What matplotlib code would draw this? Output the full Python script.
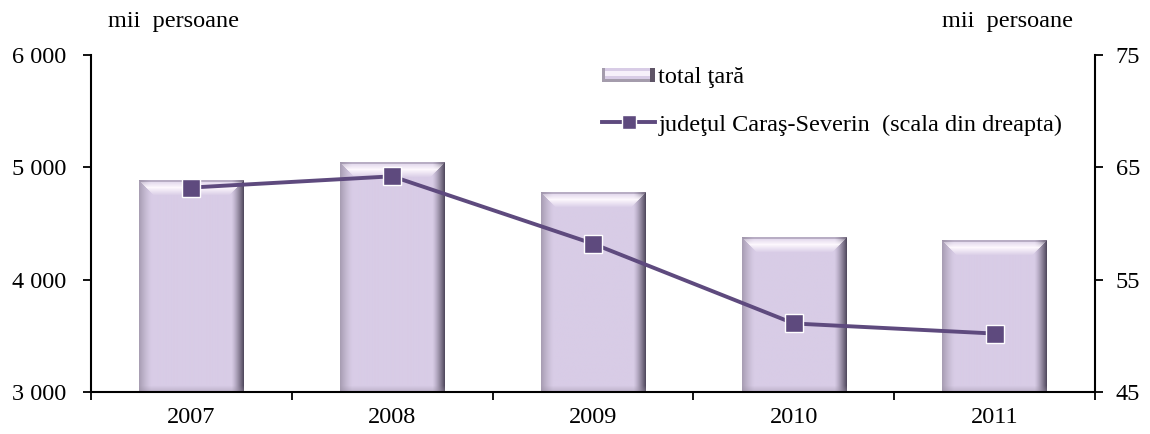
import numpy as np
import matplotlib
matplotlib.use("Agg")
import matplotlib.pyplot as plt
from matplotlib.patches import Rectangle
from matplotlib.lines import Line2D
from matplotlib.legend_handler import HandlerBase
from matplotlib.ticker import FuncFormatter, FixedLocator

plt.rcParams['font.family'] = ['Liberation Serif', 'DejaVu Serif']

years = ["2007", "2008", "2009", "2010", "2011"]
total_tara = [4885, 5046, 4774, 4371, 4353]       # mii persoane (scala stanga)
caras_severin = [63.2, 64.2, 58.2, 51.1, 50.2]     # mii persoane (scala dreapta)

BAR_COLOR = np.array([216, 204, 230]) / 255
LINE_COLOR = "#5E4A7E"
FS = 17.5


def bevel_image(w, h, b=12):
    # rgb image of a bar with a soft bevel: light top, dark right edge
    img = np.tile(BAR_COLOR, (h, w, 1)).astype(float)
    light = np.array([1.0, 0.98, 1.0])
    dark = np.array([0.30, 0.27, 0.35])
    grey = np.array([0.60, 0.56, 0.64])
    for i in range(b):
        t = (1 - i / b) ** 1.3
        img[:, i] = img[:, i] * (1 - 0.75 * t) + grey * 0.75 * t
        img[:, w - 1 - i] = img[:, w - 1 - i] * (1 - 0.95 * t) + dark * 0.95 * t
    # top highlight band
    for j in range(min(b + 6, h)):
        if j < 2:
            a, c = 0.5, grey
        else:
            a, c = max(0.0, 1 - abs(j - 7) / 8) * 0.95, light
        lo, hi = j, w - j
        img[j, lo:hi] = img[j, lo:hi] * (1 - a) + c * a
    # bottom shadow
    for j in range(min(6, h)):
        a = 0.4 * (1 - j / 6)
        img[h - 1 - j] = img[h - 1 - j] * (1 - a) + grey * a
    return np.clip(img, 0, 1)


class BevelHandler(HandlerBase):
    def create_artists(self, legend, orig_handle, xdescent, ydescent,
                       width, height, fontsize, trans):
        x0, y0 = -xdescent, -ydescent + height * 0.05
        h = height * 0.85
        base = Rectangle((x0, y0), width, h, facecolor=BAR_COLOR,
                         edgecolor="none", transform=trans)
        bottom = Rectangle((x0, y0), width, h * 0.25, facecolor="#A49CAC",
                           edgecolor="none", transform=trans)
        top = Rectangle((x0 + 2, y0 + h * 0.45), width - 4, h * 0.3,
                        facecolor="#F6F0FA", edgecolor="none", transform=trans)
        left = Rectangle((x0, y0), 2, h, facecolor="#A49CAC",
                         edgecolor="none", transform=trans)
        right = Rectangle((x0 + width - 4, y0), 4, h, facecolor="#5E5466",
                          edgecolor="none", transform=trans)
        return [base, bottom, top, left, right]


fig = plt.figure(figsize=(11.5, 4.34), dpi=100)
ax = fig.add_axes([0.0791, 0.0968, 0.8731, 0.7765])
ax2 = ax.twinx()

x = np.arange(len(years))
bars = ax.bar(x, [v - 3000 for v in total_tara], bottom=3000, width=0.52,
              color=BAR_COLOR, edgecolor="none", zorder=1)

# bevel overlay on each bar
px_per_unit = 0.7765 * 434 / 3000
for p in bars.patches:
    w_px = int(round(p.get_width() * 0.8731 * 1150 / len(years)))
    h_px = max(int(round(p.get_height() * px_per_unit)), 2)
    ax.imshow(bevel_image(w_px, h_px),
              extent=(p.get_x(), p.get_x() + p.get_width(), p.get_y(), p.get_y() + p.get_height()),
              aspect="auto", zorder=2, interpolation="bilinear")
ax.set_xlim(-0.5, len(years) - 0.5)
ax.set_ylim(3000, 6000)

ax2.plot(x, caras_severin, color=LINE_COLOR, lw=2.8, marker="s", ms=12.5,
         mfc=LINE_COLOR, mec="white", mew=1.0, zorder=5)
ax2.set_ylim(45, 75)

ax.set_yticks([3000, 4000, 5000, 6000])
ax.yaxis.set_major_formatter(FuncFormatter(lambda v, _: f"{int(v):,}".replace(",", " ")))
ax2.set_yticks([45, 55, 65, 75])

ax.set_xticks(x)
ax.set_xticklabels(years)
ax.xaxis.set_minor_locator(FixedLocator(np.arange(-0.5, len(years), 1.0)))
ax.tick_params(axis="x", which="major", length=0, pad=11, labelsize=FS)
ax.tick_params(axis="x", which="minor", length=6, width=1.3, direction="out")
ax.tick_params(axis="y", length=6, width=1.3, direction="out", pad=12, labelsize=FS)
ax2.tick_params(axis="y", length=6, width=1.3, direction="out", pad=9, labelsize=FS)

for a in (ax, ax2):
    a.spines["top"].set_visible(False)
    for s in ("left", "right", "bottom"):
        a.spines[s].set_linewidth(1.5)
ax.spines["right"].set_visible(False)
ax2.spines["left"].set_visible(False)
ax2.spines["bottom"].set_visible(False)

fig.text(108 / 1150, 1 - 22 / 434, "mii  persoane", fontsize=FS, ha="left", va="center")
fig.text(1073 / 1150, 1 - 22 / 434, "mii  persoane", fontsize=FS, ha="right", va="center")

handles = [Rectangle((0, 0), 1, 1),
           Line2D([], [], color=LINE_COLOR, lw=2.8, marker="s", ms=10.5, mfc=LINE_COLOR, mec="white")]
labels = ["total ţară", "judeţul Caraş-Severin  (scala din dreapta)"]
ax2.legend(handles, labels, loc="upper left", bbox_to_anchor=(602 / 1150, 1 - 66 / 434),
           bbox_transform=fig.transFigure, frameon=False, fontsize=FS,
           handler_map={Rectangle: BevelHandler()}, handlelength=2.2,
           handletextpad=0.12, labelspacing=1.05, borderpad=0, borderaxespad=0)

fig.savefig("out.png", dpi=100)
